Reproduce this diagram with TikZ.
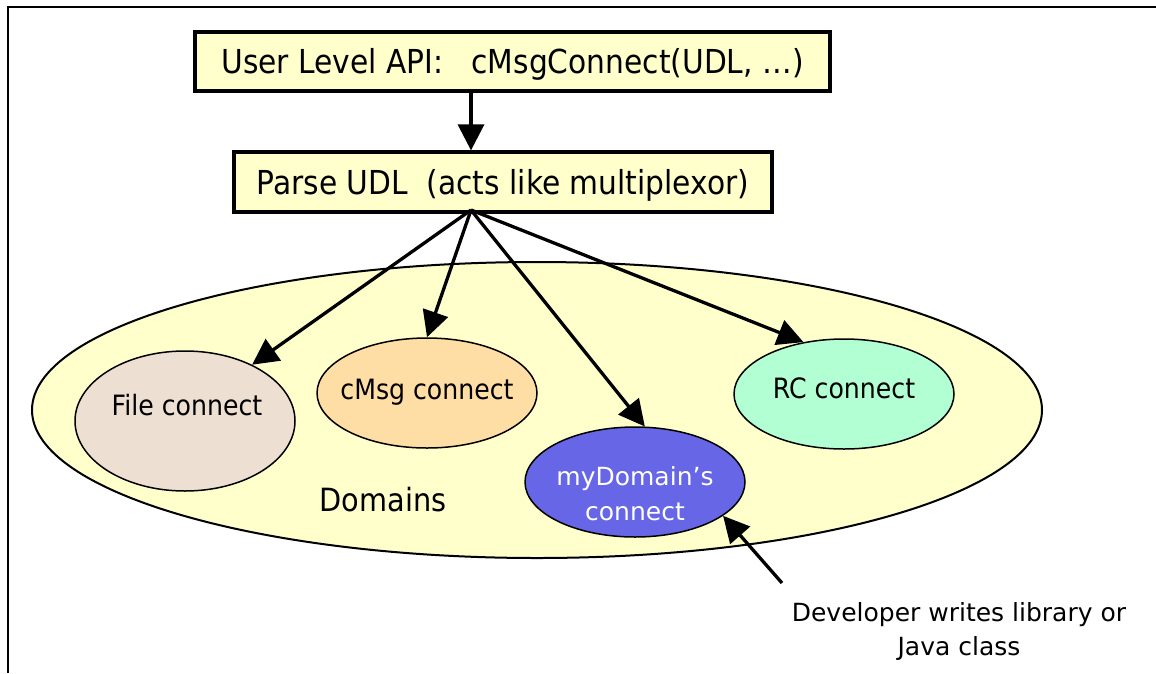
\documentclass[tikz,border=0pt]{standalone}
\usepackage{fontspec}
\setmainfont{DejaVu Sans}[FakeStretch=0.9]
\newfontfamily\verd{DejaVu Sans}
\usetikzlibrary{shapes.geometric,arrows.meta}
\definecolor{paleyellow}{RGB}{255,255,204}
\definecolor{filecol}{RGB}{238,223,211}
\definecolor{cmsgcol}{RGB}{255,222,166}
\definecolor{rccol}{RGB}{178,255,212}
\definecolor{mydcol}{RGB}{102,102,230}
\begin{document}
\begin{tikzpicture}[x=1pt,y=-1pt,
  apibox/.style={draw, line width=3.2pt, fill=paleyellow, inner sep=0pt,
    text height=24pt, text depth=0pt, font=\fontsize{33}{40}\selectfont},
  domell/.style={draw, ellipse, line width=1.5pt, inner sep=0pt},
  arr/.style={line width=3.3pt, -{Triangle[length=26pt,width=26pt]}},
  lbl/.style={anchor=base, inner sep=0pt, font=\fontsize{28}{34}\selectfont},
  vlbl/.style={anchor=base, inner sep=0pt, align=center,
    font=\verd\fontsize{25}{35}\selectfont}]
\useasboundingbox (0,0) rectangle (1156,673);
\fill[white] (0,0) rectangle (1156,673);
% frame
\draw[line width=2pt] (8,673) -- (8,7) -- (1156,7);
% domains ellipse
\node[domell, line width=2pt, fill=paleyellow, minimum width=1010pt, minimum height=296pt] (dom) at (537,410) {};
\node[lbl, font=\fontsize{32}{38}\selectfont] (domtxt) at (383,511) {Domains};
% inner ellipses
\node[domell, fill=filecol, minimum width=220pt, minimum height=140pt] (file) at (185,421) {};
\node[lbl] (filetxt) at (187,415) {File connect};
\node[domell, fill=cmsgcol, minimum width=220pt, minimum height=110pt] (cmsg) at (427,393) {};
\node[lbl] (cmsgtxt) at (427,399) {cMsg connect};
\node[domell, fill=rccol, minimum width=220pt, minimum height=110pt] (rc) at (844,394) {};
\node[lbl] (rctxt) at (844,398) {RC connect};
\node[domell, fill=mydcol, minimum width=220pt, minimum height=110pt] (myd) at (635,482) {};
\node[vlbl, text=white] (mydtxt) at (635,520) {myDomain’s\\connect};
% boxes
\node[apibox, minimum width=635pt, minimum height=59pt] (api) at (512.5,61.5) {User Level API:\ \ \ cMsgConnect(UDL, …)};
\node[apibox, minimum width=538pt, minimum height=60pt] (parse) at (503,182) {Parse UDL\ \ (acts like multiplexor)};
\coordinate (fan) at (471,210);
% arrows
\draw[arr] (api.south -| fan) -- (parse.north -| fan);
\draw[arr] (fan) -- (file.40);
\draw[arr] (fan) -- (cmsg.90);
\draw[arr] (fan) -- (myd.80);
\draw[arr] (fan) -- (rc.128);
% developer note
\node[vlbl, font=\verd\fontsize{25}{34}\selectfont] (devtxt) at (959,655) {Developer writes library or\\Java class};
\coordinate (devtail) at (782,583);
\draw[arr] (devtail) -- (myd.-21);
\end{tikzpicture}
\end{document}
